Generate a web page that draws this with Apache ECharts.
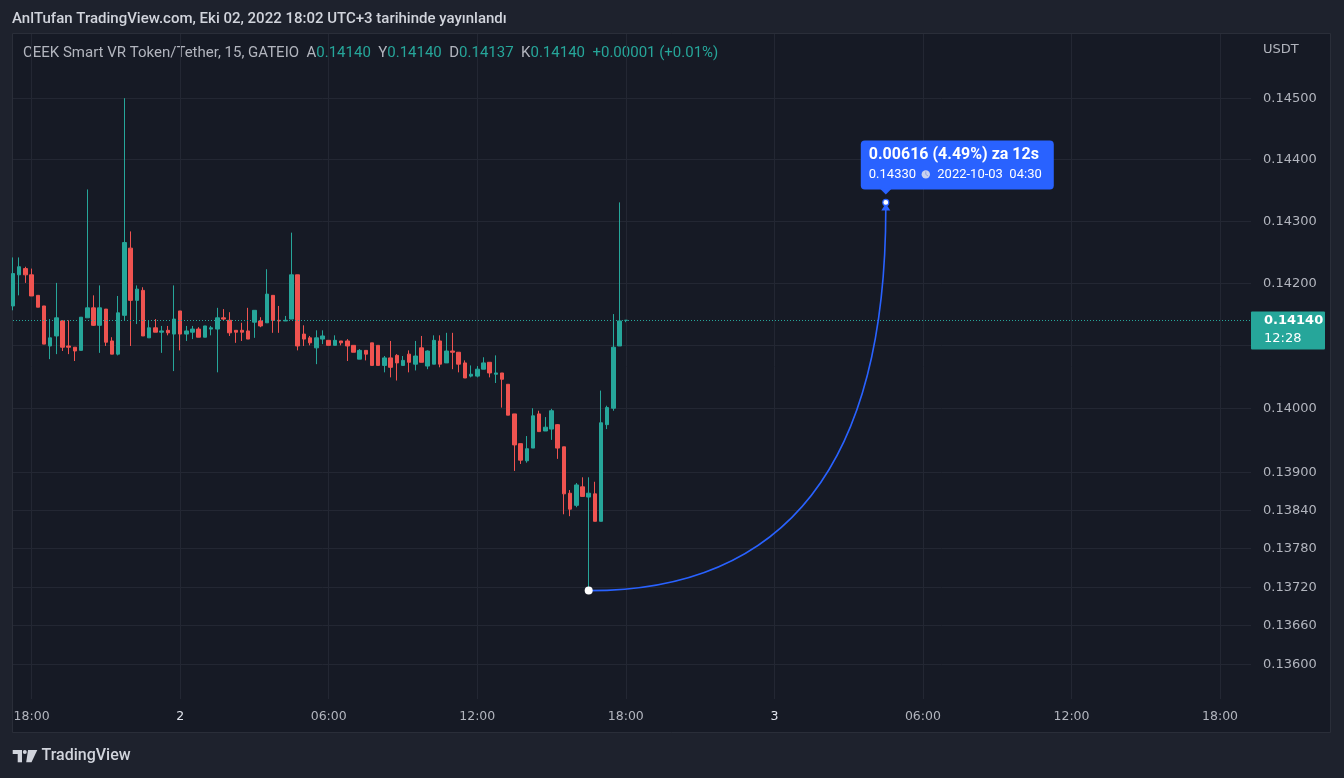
<!DOCTYPE html>
<html><head><meta charset="utf-8">
<script src="https://cdn.jsdelivr.net/npm/echarts@6/dist/echarts.min.js"></script>
<style>html,body{margin:0;padding:0;background:#1e222d;}#c{width:1344px;height:778px;}</style>
</head><body><div id="c"></div>
<script>
// ---- data (15-minute candles, 2022-10-01 17:15 .. 2022-10-02 18:00) ----
const SLOT_COUNT = 201; // 15-min slots from 2022-10-01 17:15 to 2022-10-03 19:15
const OPEN = [0.14163,0.14213,0.14223,0.14213,0.14180,0.14163,0.14099,0.14115,0.14139,0.14099,
0.14097,0.14092,0.14144,0.14160,0.14132,0.14158,0.14107,0.14086,0.14148,0.14256,
0.14172,0.14188,0.14112,0.14128,0.14121,0.14124,0.14118,0.14155,0.14118,0.14121,
0.14126,0.14113,0.14126,0.14126,0.14144,0.14140,0.14124,0.14124,0.14123,0.14137,
0.14139,0.14136,0.14180,0.14140,0.14139,0.14142,0.14213,0.14118,0.14112,0.14096,
0.14110,0.14108,0.14100,0.14107,0.14107,0.14100,0.14078,0.14092,0.14104,0.14100,
0.14068,0.14080,0.14084,0.14068,0.14086,0.14070,0.14096,0.14067,0.14070,0.14107,
0.14072,0.14091,0.14089,0.14072,0.14051,0.14051,0.14062,0.14073,0.14054,0.14056,
0.14038,0.13991,0.13944,0.13917,0.13937,0.13991,0.13964,0.13967,0.13974,0.13939,
0.13866,0.13847,0.13876,0.13860,0.13865,0.13822,0.13974,0.14000,0.14099,0.14140];
const HIGH = [0.14241,0.14241,0.14226,0.14223,0.14180,0.14163,0.14142,0.14200,0.14140,0.14140,
0.14097,0.14145,0.14351,0.14180,0.14196,0.14158,0.14113,0.14179,0.14500,0.14283,
0.14196,0.14193,0.14140,0.14142,0.14131,0.14131,0.14196,0.14155,0.14131,0.14131,
0.14129,0.14131,0.14131,0.14160,0.14158,0.14153,0.14124,0.14136,0.14160,0.14156,
0.14145,0.14222,0.14180,0.14163,0.14147,0.14281,0.14213,0.14132,0.14115,0.14124,
0.14124,0.14108,0.14116,0.14107,0.14110,0.14100,0.14094,0.14092,0.14104,0.14100,
0.14083,0.14107,0.14086,0.14083,0.14092,0.14107,0.14115,0.14092,0.14116,0.14116,
0.14120,0.14120,0.14089,0.14076,0.14068,0.14067,0.14081,0.14073,0.14084,0.14056,
0.14038,0.13991,0.13944,0.13956,0.14000,0.13996,0.13986,0.13999,0.13975,0.13939,
0.13871,0.13882,0.13891,0.13891,0.13884,0.14028,0.14004,0.14150,0.14330,0.14140];
const LOW = [0.14156,0.14180,0.14200,0.14179,0.14161,0.14102,0.14078,0.14086,0.14091,0.14086,
0.14075,0.14092,0.14144,0.14131,0.14088,0.14099,0.14086,0.14084,0.14140,0.14099,
0.14134,0.14115,0.14112,0.14121,0.14088,0.14116,0.14059,0.14092,0.14107,0.14110,
0.14113,0.14113,0.14116,0.14057,0.14140,0.14115,0.14104,0.14107,0.14110,0.14112,
0.14129,0.14136,0.14120,0.14120,0.14139,0.14142,0.14092,0.14099,0.14100,0.14070,
0.14102,0.14100,0.14100,0.14100,0.14075,0.14089,0.14078,0.14076,0.14068,0.14068,
0.14057,0.14049,0.14044,0.14068,0.14057,0.14060,0.14073,0.14062,0.14070,0.14065,
0.14072,0.14062,0.14057,0.14048,0.14049,0.14049,0.14062,0.14049,0.14040,0.14001,
0.13989,0.13901,0.13912,0.13914,0.13937,0.13963,0.13964,0.13950,0.13920,0.13833,
0.13830,0.13844,0.13861,0.13714,0.13822,0.13822,0.13967,0.13996,0.14099,0.14137];
const CLOSE = [0.14215,0.14226,0.14213,0.14179,0.14161,0.14102,0.14112,0.14144,0.14097,0.14097,
0.14091,0.14145,0.14160,0.14132,0.14160,0.14105,0.14086,0.14152,0.14265,0.14172,
0.14190,0.14115,0.14128,0.14121,0.14123,0.14120,0.14142,0.14118,0.14123,0.14126,
0.14113,0.14131,0.14128,0.14144,0.14142,0.14120,0.14121,0.14121,0.14110,0.14156,
0.14131,0.14182,0.14140,0.14139,0.14140,0.14213,0.14099,0.14110,0.14104,0.14112,
0.14115,0.14100,0.14108,0.14104,0.14099,0.14089,0.14092,0.14086,0.14068,0.14068,
0.14080,0.14065,0.14072,0.14076,0.14073,0.14083,0.14073,0.14091,0.14108,0.14070,
0.14091,0.14089,0.14070,0.14048,0.14054,0.14062,0.14072,0.14056,0.14056,0.14046,
0.13989,0.13942,0.13918,0.13936,0.13988,0.13963,0.13970,0.13996,0.13937,0.13865,
0.13841,0.13879,0.13861,0.13866,0.13822,0.13977,0.14001,0.14097,0.14139,0.14140];

const X_TICK_TIMES  = ['2022-10-01 18:00','2022-10-02 00:00','2022-10-02 06:00','2022-10-02 12:00','2022-10-02 18:00','2022-10-03 00:00','2022-10-03 06:00','2022-10-03 12:00','2022-10-03 18:00'];
const X_TICK_LABELS = ['18:00','2','06:00','12:00','18:00','3','06:00','12:00','18:00'];
const Y_TICKS = [0.145,0.144,0.143,0.142,0.141,0.140,0.139,0.1384,0.1378,0.1372,0.1366,0.136];
const Y_MIN = 0.135468, Y_MAX = 0.146057;

const LAST_PRICE = 0.14140;
const LAST_COUNTDOWN = '12:28';
const MEASURE = {fromTime:'2022-10-02 16:30', fromPrice:0.13714, toTime:'2022-10-03 04:30', toPrice:0.14330, duration:'12s'};
const HEADER_TEXT = 'AnlTufan TradingView.com, Eki 02, 2022 18:02 UTC+3 tarihinde yayınlandı';
const SYMBOL_TEXT = 'CEEK Smart VR Token/Tether, 15, GATEIO';

// ---- build ----
const pad = n => (n < 10 ? '0' : '') + n;
const categories = [];
(function(){ let d = 1, h = 17, mi = 15;
  for (let k = 0; k < SLOT_COUNT; k++) {
    categories.push('2022-10-' + pad(d) + ' ' + pad(h) + ':' + pad(mi));
    mi += 15; if (mi === 60) { mi = 0; h++; if (h === 24) { h = 0; d++; } }
  }})();
const candles = OPEN.map((o, i) => [o, CLOSE[i], LOW[i], HIGH[i]]);

const n = CLOSE.length;
const chg = CLOSE[n-1] - CLOSE[n-2];
const chgPct = chg / CLOSE[n-2] * 100;
const sgn = v => (v >= 0 ? '+' : '-');
const legendText = '{g|' + SYMBOL_TEXT + '  A}{v|' + OPEN[n-1].toFixed(5) + '}{g|  Y}{v|' + HIGH[n-1].toFixed(5) +
  '}{g|  D}{v|' + LOW[n-1].toFixed(5) + '}{g|  K}{v|' + CLOSE[n-1].toFixed(5) + '}{v|  ' + sgn(chg) + Math.abs(chg).toFixed(5) +
  ' (' + sgn(chg) + Math.abs(chgPct).toFixed(2) + '%)}';

const tickIdx = v => X_TICK_TIMES.indexOf(v);
const AX_FONT = '"DejaVu Sans"';

const chart = echarts.init(document.getElementById('c'));
const option = {
  backgroundColor: '#1e222d',
  animation: false,
  grid: {left: 13, top: 34, width: 1238, height: 665, containLabel: false},
  xAxis: {
    type: 'category', data: categories, boundaryGap: false,
    axisLine: {show: false}, axisTick: {show: false},
    axisLabel: {
      interval: (i, v) => tickIdx(v) >= 0,
      formatter: v => { const k = tickIdx(v); const t = X_TICK_LABELS[k] || '';
        return v.endsWith('00:00') ? '{b|' + t + '}' : t; },
      color: '#b2b5be', fontFamily: AX_FONT, fontSize: 12.5, margin: 11,
      rich: {b: {color: '#e0e3eb', fontFamily: AX_FONT, fontSize: 12.5}}
    },
    splitLine: {show: true, interval: (i, v) => tickIdx(v) >= 0, lineStyle: {color: '#232733', width: 1}}
  },
  yAxis: {
    type: 'log', logBase: 10, min: Y_MIN, max: Y_MAX, position: 'right',
    axisLine: {show: false}, axisTick: {show: false}, axisLabel: {show: false}, splitLine: {show: false}
  },
  series: [
    {
      type: 'custom', z: 1, silent: true, data: [[0, LAST_PRICE]],
      renderItem: (params, api) => {
        const children = [];
        const xl = api.coord([0, LAST_PRICE])[0];
        const xr = api.coord([SLOT_COUNT - 1, LAST_PRICE])[0];
        Y_TICKS.forEach(v => {
          const y = Math.round(api.coord([0, v])[1]) + 0.5;
          children.push({type: 'line', shape: {x1: xl, y1: y, x2: xr, y2: y}, style: {stroke: '#232733', lineWidth: 1}});
          children.push({type: 'text', x: xr + 12, y: y, style: {text: v.toFixed(5), fill: '#b2b5be', font: '13px ' + AX_FONT, verticalAlign: 'middle', align: 'left'}});
        });
        return {type: 'group', children};
      }
    },
    {
      type: 'candlestick', z: 2, data: candles, barWidth: 4,
      itemStyle: {color: '#26a69a', color0: '#ef5350', borderColor: '#26a69a', borderColor0: '#ef5350', borderColorDoji: '#26a69a', borderWidth: 1}
    },
    {
      type: 'custom', z: 10, silent: true, data: [[0, LAST_PRICE]],
      renderItem: (params, api) => {
        const c = [];
        const xl = api.coord([0, LAST_PRICE])[0];
        const xr = api.coord([SLOT_COUNT - 1, LAST_PRICE])[0];
        const yp = Math.round(api.coord([0, LAST_PRICE])[1]) + 0.5;
        c.push({type: 'line', shape: {x1: xl, y1: yp, x2: xr, y2: yp}, style: {stroke: '#26a69a', lineWidth: 1, lineDash: [1, 2]}});
        c.push({type: 'rect', shape: {x: xr, y: yp - 9, width: 74, height: 38, r: 1}, style: {fill: '#26a69a'}});
        c.push({type: 'text', x: xr + 13, y: yp, style: {text: LAST_PRICE.toFixed(5), fill: '#ffffff', font: 'bold 13px ' + AX_FONT, verticalAlign: 'middle'}});
        c.push({type: 'text', x: xr + 13, y: yp + 18, style: {text: LAST_COUNTDOWN, fill: '#ffffff', font: '13px ' + AX_FONT, verticalAlign: 'middle'}});

        const p1 = api.coord([categories.indexOf(MEASURE.fromTime), MEASURE.fromPrice]);
        const p2 = api.coord([categories.indexOf(MEASURE.toTime), MEASURE.toPrice]);
        const blue = '#2962ff';
        c.push({type: 'bezierCurve', shape: {x1: p1[0], y1: p1[1], x2: p2[0], y2: p2[1] + 6, cpx1: p2[0], cpy1: p1[1]}, style: {stroke: blue, lineWidth: 1.6, fill: null}});
        c.push({type: 'polygon', shape: {points: [[p2[0], p2[1] + 1], [p2[0] - 4.5, p2[1] + 8], [p2[0] + 4.5, p2[1] + 8]]}, style: {fill: blue}});
        c.push({type: 'circle', shape: {cx: p1[0], cy: p1[1], r: 4}, style: {fill: '#ffffff'}});
        c.push({type: 'circle', shape: {cx: p2[0], cy: p2[1], r: 3}, style: {fill: '#ffffff', stroke: blue, lineWidth: 1.2}});

        const bx = p2[0] - 25, by = p2[1] - 62;
        c.push({type: 'rect', shape: {x: bx, y: by, width: 193, height: 49, r: 4}, style: {fill: blue}});
        c.push({type: 'polygon', shape: {points: [[p2[0] - 6, by + 48], [p2[0] + 6, by + 48], [p2[0], by + 54]]}, style: {fill: blue}});
        const diff = MEASURE.toPrice - MEASURE.fromPrice;
        const pct = diff / MEASURE.fromPrice * 100;
        c.push({type: 'text', x: p2[0] - 17, y: p2[1] - 47, style: {text: diff.toFixed(5) + ' (' + pct.toFixed(2) + '%) za ' + MEASURE.duration, fill: '#ffffff', font: 'bold 16px Roboto', verticalAlign: 'middle'}});
        c.push({type: 'text', x: p2[0] - 17, y: p2[1] - 28, style: {text: MEASURE.toPrice.toFixed(5), fill: '#ffffff', font: '13px Roboto', verticalAlign: 'middle'}});
        c.push({type: 'circle', shape: {cx: p2[0] + 40, cy: p2[1] - 28, r: 4.2}, style: {fill: '#c9d2ee'}});
        c.push({type: 'polyline', shape: {points: [[p2[0] + 40, p2[1] - 31], [p2[0] + 40, p2[1] - 28], [p2[0] + 42.2, p2[1] - 26.4]]}, style: {stroke: '#8fa3e8', lineWidth: 1, fill: null}});
        c.push({type: 'text', x: p2[0] + 51.5, y: p2[1] - 28, style: {text: MEASURE.toTime.replace(' ', '  '), fill: '#ffffff', font: '13px Roboto', verticalAlign: 'middle'}});
        return {type: 'group', children: c};
      }
    }
  ],
  graphic: [
    {type: 'rect', z: -10, silent: true, shape: {x: 12.5, y: 33.5, width: 1318, height: 699}, style: {fill: '#161a25', stroke: '#2a2e39', lineWidth: 1}},
    {type: 'text', x: 12, y: 19, style: {text: HEADER_TEXT, fill: '#d1d4dc', font: '500 15px Roboto', verticalAlign: 'middle'}},
    {type: 'text', x: 23, y: 53, style: {text: legendText, verticalAlign: 'middle',
      rich: {g: {fill: '#b2b5be', font: '15px Roboto'}, v: {fill: '#26a69a', font: '15px Roboto'}}}},
    {type: 'text', x: 1263, y: 50, style: {text: 'USDT', fill: '#b2b5be', font: '13px ' + AX_FONT, verticalAlign: 'middle'}},
    {type: 'rect', shape: {x: 12.7, y: 750, width: 9.3, height: 4}, style: {fill: '#d1d4dc'}},
    {type: 'rect', shape: {x: 17.7, y: 750, width: 4.3, height: 12.3}, style: {fill: '#d1d4dc'}},
    {type: 'circle', shape: {cx: 24.8, cy: 752, r: 2}, style: {fill: '#d1d4dc'}},
    {type: 'polygon', shape: {points: [[28, 750], [37.3, 750], [31.5, 762.3], [26.2, 762.3]]}, style: {fill: '#d1d4dc'}},
    {type: 'text', x: 41.5, y: 756, style: {text: 'TradingView', fill: '#d1d4dc', font: '500 16px Roboto', verticalAlign: 'middle'}}
  ]
};
chart.setOption(option);
</script></body></html>
